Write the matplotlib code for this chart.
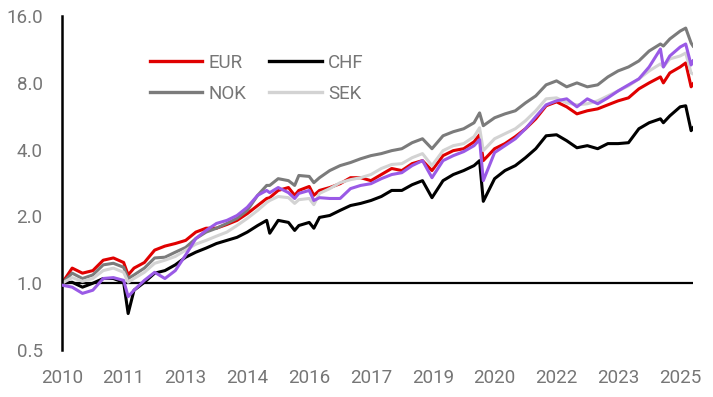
import matplotlib
matplotlib.use("Agg")
import matplotlib.pyplot as plt
import pandas as pd

plt.rcParams['font.family'] = ['Roboto', 'DejaVu Sans']

# observation dates (quarterly, plus a few dates around sharp moves)
dates = [
    "2010-01-01", "2010-04-01", "2010-07-01", "2010-10-01", "2011-01-01",
    "2011-04-01", "2011-07-01", "2011-08-10", "2011-10-01", "2012-01-01",
    "2012-04-01", "2012-07-01", "2012-10-01", "2013-01-01", "2013-04-01",
    "2013-07-01", "2013-10-01", "2014-01-01", "2014-04-01", "2014-07-01",
    "2014-10-01", "2014-12-20", "2015-01-16", "2015-04-01", "2015-07-01",
    "2015-08-25", "2015-10-01", "2016-01-01", "2016-02-11", "2016-04-01",
    "2016-07-01", "2016-10-01", "2017-01-01", "2017-04-01", "2017-07-01",
    "2017-10-01", "2018-01-01", "2018-04-01", "2018-07-01", "2018-10-01",
    "2018-12-24", "2019-04-01", "2019-07-01", "2019-10-01", "2020-01-01",
    "2020-02-19", "2020-03-23", "2020-07-01", "2020-10-01", "2021-01-01",
    "2021-04-01", "2021-07-01", "2021-10-01", "2022-01-01", "2022-04-01",
    "2022-07-01", "2022-10-01", "2023-01-01", "2023-04-01", "2023-07-01",
    "2023-10-01", "2024-01-01", "2024-04-01", "2024-07-10", "2024-08-05",
    "2024-10-01", "2025-01-01", "2025-02-19", "2025-04-08", "2025-04-25",
]

eur = [1.00, 1.17, 1.11, 1.14, 1.27, 1.30, 1.24, 1.09, 1.17, 1.24,
       1.41, 1.47, 1.51, 1.56, 1.70, 1.77, 1.77, 1.84, 1.92, 2.06,
       2.24, 2.41, 2.43, 2.62, 2.70, 2.49, 2.62, 2.73, 2.49, 2.62,
       2.70, 2.81, 2.99, 2.99, 2.90, 3.09, 3.29, 3.22, 3.46, 3.57,
       3.22, 3.76, 3.96, 4.04, 4.34, 4.67, 3.57, 4.04, 4.26, 4.58,
       4.97, 5.51, 6.31, 6.57, 6.24, 5.80, 5.99, 6.11, 6.37, 6.64,
       6.85, 7.52, 8.00, 8.51, 8.00, 8.87, 9.44, 9.84, 7.68, 7.92]

chf = [1.00, 1.01, 0.96, 1.00, 1.05, 1.05, 1.01, 0.73, 0.93, 1.01,
       1.11, 1.14, 1.21, 1.31, 1.38, 1.44, 1.51, 1.56, 1.61, 1.70,
       1.82, 1.92, 1.68, 1.92, 1.88, 1.73, 1.82, 1.88, 1.77, 1.98,
       2.02, 2.13, 2.24, 2.29, 2.36, 2.46, 2.62, 2.62, 2.78, 2.90,
       2.43, 2.90, 3.09, 3.22, 3.39, 3.57, 2.34, 2.96, 3.22, 3.39,
       3.68, 4.04, 4.62, 4.67, 4.39, 4.08, 4.17, 4.04, 4.26, 4.26,
       4.30, 4.97, 5.29, 5.51, 5.29, 5.68, 6.24, 6.31, 4.87, 5.02]

nok = [1.00, 1.11, 1.05, 1.09, 1.21, 1.23, 1.18, 1.05, 1.09, 1.17,
       1.30, 1.31, 1.38, 1.45, 1.59, 1.70, 1.77, 1.86, 1.96, 2.13,
       2.49, 2.76, 2.76, 2.96, 2.90, 2.76, 3.06, 3.03, 2.84, 2.99,
       3.22, 3.39, 3.50, 3.64, 3.76, 3.84, 3.96, 4.04, 4.30, 4.48,
       4.04, 4.62, 4.82, 4.97, 5.29, 5.86, 5.13, 5.57, 5.80, 5.99,
       6.50, 6.99, 7.84, 8.17, 7.68, 8.00, 7.68, 7.84, 8.51, 9.06,
       9.44, 10.05, 11.14, 11.98, 11.73, 12.62, 13.70, 14.13, 12.10, 11.73]

sek = [1.00, 1.06, 1.02, 1.05, 1.14, 1.17, 1.12, 1.01, 1.05, 1.12,
       1.23, 1.27, 1.32, 1.41, 1.50, 1.56, 1.63, 1.70, 1.82, 1.96,
       2.13, 2.31, 2.36, 2.46, 2.43, 2.29, 2.38, 2.41, 2.26, 2.54,
       2.67, 2.84, 2.93, 2.99, 3.09, 3.29, 3.43, 3.46, 3.68, 3.84,
       3.39, 3.96, 4.17, 4.26, 4.58, 5.02, 3.96, 4.48, 4.72, 4.97,
       5.40, 5.99, 6.78, 6.85, 6.50, 6.37, 6.44, 6.64, 6.99, 7.36,
       7.76, 8.34, 9.06, 9.74, 9.44, 10.26, 10.58, 10.91, 8.87, 8.78]

# purple series (not in the legend)
jpy = [0.98, 0.96, 0.90, 0.93, 1.05, 1.06, 1.03, 0.87, 0.93, 1.03,
       1.12, 1.05, 1.14, 1.34, 1.59, 1.73, 1.86, 1.92, 2.02, 2.20,
       2.49, 2.62, 2.56, 2.70, 2.56, 2.41, 2.54, 2.62, 2.36, 2.43,
       2.41, 2.41, 2.67, 2.76, 2.81, 2.96, 3.09, 3.15, 3.39, 3.57,
       2.99, 3.57, 3.76, 3.92, 4.17, 4.44, 2.90, 3.88, 4.17, 4.48,
       4.97, 5.63, 6.37, 6.64, 6.78, 6.24, 6.78, 6.44, 6.85, 7.36,
       7.84, 8.34, 9.44, 11.37, 9.44, 10.58, 11.61, 11.98, 9.64, 10.05]

y_ticks = [0.5, 1.0, 2.0, 4.0, 8.0, 16.0]
x_tick_dates = ["2010-01-01", "2011-07-01", "2013-01-01", "2014-07-01",
                "2016-01-01", "2017-07-01", "2019-01-01", "2020-07-01",
                "2022-01-01", "2023-07-01", "2025-01-01"]

t = pd.to_datetime(dates)
tick_color = "#767676"

fig = plt.figure(figsize=(7.13, 3.97), dpi=100)
ax = fig.add_axes([0.087, 0.1184, 0.885, 0.841])

ax.axhline(1.0, color="black", lw=1.6, zorder=1)
ax.plot(t, eur, color="#e00000", lw=2.2, label="EUR", zorder=2)
ax.plot(t, chf, color="black", lw=2.2, label="CHF", zorder=2)
ax.plot(t, nok, color="#7b7b7b", lw=2.2, label="NOK", zorder=2)
ax.plot(t, sek, color="#d3d3d3", lw=2.2, label="SEK", zorder=2)
ax.plot(t, jpy, color="#9a5ae6", lw=2.2, label="_nolegend_", zorder=3)

ax.set_yscale("log", base=2)
ax.set_ylim(0.5, 16)
ax.set_yticks(y_ticks)
ax.set_yticklabels([f"{v:.1f}" for v in y_ticks])
ax.minorticks_off()

ax.set_xlim(t[0], t[-1])
xt = pd.to_datetime(x_tick_dates)
ax.set_xticks(xt)
ax.set_xticklabels([str(d.year) for d in xt])

for s in ["top", "right", "bottom"]:
    ax.spines[s].set_visible(False)
ax.spines["left"].set_linewidth(1.8)
ax.tick_params(axis="both", length=0, labelsize=13.5, labelcolor=tick_color)
ax.tick_params(axis="y", pad=14)
ax.tick_params(axis="x", pad=14)

h, l = ax.get_legend_handles_labels()
order = [0, 2, 1, 3]
leg = fig.legend([h[i] for i in order], [l[i] for i in order], ncol=2,
                 loc="upper left", bbox_to_anchor=(0.21, 0.865), frameon=False,
                 fontsize=13.5, handlelength=2.8, handletextpad=0.35,
                 columnspacing=1.2, labelspacing=0.7, borderpad=0,
                 borderaxespad=0)
for line in leg.get_lines():
    line.set_linewidth(2.4)
for txt in leg.get_texts():
    txt.set_color(tick_color)

fig.savefig("out.png", dpi=100)
